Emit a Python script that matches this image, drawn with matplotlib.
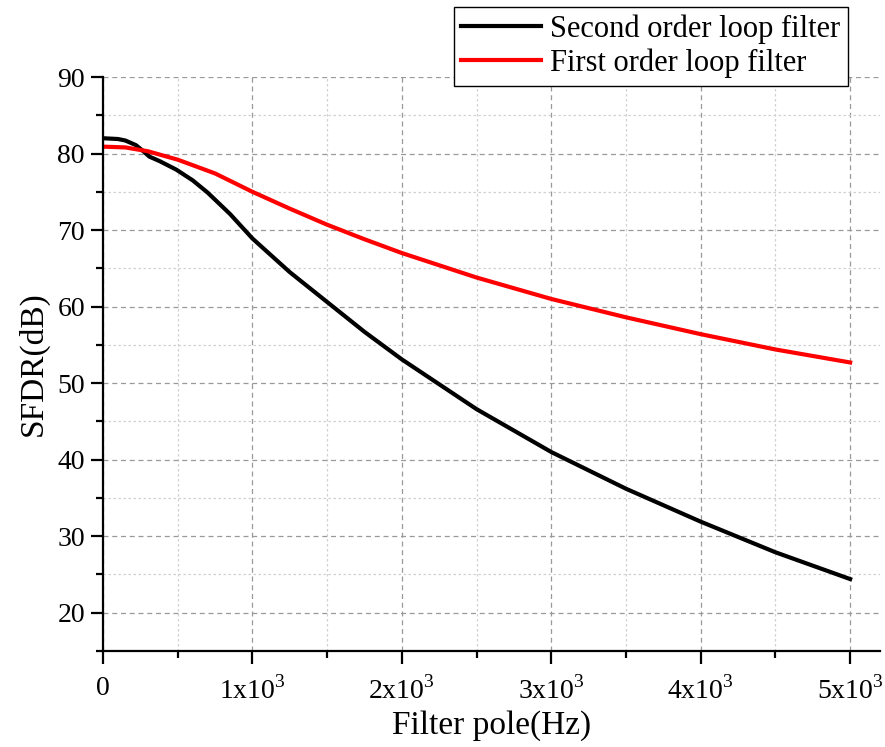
import matplotlib
matplotlib.use('Agg')
import matplotlib.pyplot as plt
from matplotlib.ticker import MultipleLocator, FixedLocator, FixedFormatter

plt.rcParams['font.family'] = ['Liberation Serif', 'DejaVu Serif']
plt.rcParams['mathtext.fontset'] = 'custom'
plt.rcParams['mathtext.rm'] = 'Liberation Serif'

# Filter pole (Hz) vs SFDR (dB)
x_second = [0, 100, 150, 220, 270, 310, 380, 490, 600, 700, 850, 1000, 1250, 1500,
            1750, 2000, 2500, 3000, 3500, 4000, 4500, 5000]
sfdr_second = [82.0, 81.9, 81.7, 81.1, 80.3, 79.6, 79.0, 77.9, 76.5, 74.9, 72.1, 68.9,
               64.5, 60.6, 56.7, 53.1, 46.6, 41.0, 36.2, 31.9, 27.9, 24.4]

x_first = [0, 150, 300, 500, 750, 1000, 1250, 1500, 1750, 2000, 2500, 3000, 3500,
           4000, 4500, 5000]
sfdr_first = [80.9, 80.8, 80.3, 79.2, 77.4, 75.0, 72.8, 70.7, 68.8, 67.0, 63.8, 61.0,
              58.6, 56.4, 54.4, 52.7]

xtick_vals = [0, 1000, 2000, 3000, 4000, 5000]
xtick_labels = ['0', r'1x10$^3$', r'2x10$^3$', r'3x10$^3$', r'4x10$^3$', r'5x10$^3$']

fig = plt.figure(figsize=(8.85, 7.47), dpi=100)
ax = fig.add_axes([0.1164, 0.1285, 0.878, 0.7684])

ax.plot(x_second, sfdr_second, color='black', lw=3.0, label='Second order loop filter')
ax.plot(x_first, sfdr_first, color='red', lw=3.0, label='First order loop filter')

ax.set_xlim(0, 5200)
ax.set_ylim(15, 90)
ax.xaxis.set_major_locator(FixedLocator(xtick_vals))
ax.xaxis.set_major_formatter(FixedFormatter(xtick_labels))
ax.xaxis.set_minor_locator(MultipleLocator(500))
ax.yaxis.set_major_locator(MultipleLocator(10))
ax.yaxis.set_minor_locator(MultipleLocator(5))

ax.spines['top'].set_visible(False)
ax.spines['right'].set_visible(False)
for s in ['left', 'bottom']:
    ax.spines[s].set_linewidth(1.6)

ax.tick_params(which='major', direction='out', length=9, width=1.6, labelsize=20, pad=4)
ax.tick_params(which='minor', direction='out', length=5, width=1.6)
ax.tick_params(axis='x', which='major', pad=9)

ax.grid(which='major', color='#999999', ls=(0, (4, 3)), lw=0.9)
ax.grid(which='minor', color='#d0d0d0', ls=(0, (2, 2)), lw=0.9)
ax.set_axisbelow(True)

ax.set_xlabel('Filter pole(Hz)', fontsize=24, labelpad=4)
ax.set_ylabel('SFDR(dB)', fontsize=24, labelpad=6)

leg = fig.legend(loc='upper right', bbox_to_anchor=(0.958, 0.991), fontsize=22,
                 frameon=True, fancybox=False, edgecolor='black', framealpha=1,
                 handlelength=2.6, borderpad=0.25, labelspacing=0.15, handletextpad=0.3,
                 borderaxespad=0)
leg.get_frame().set_linewidth(1.0)

fig.savefig('out.png', dpi=100)
